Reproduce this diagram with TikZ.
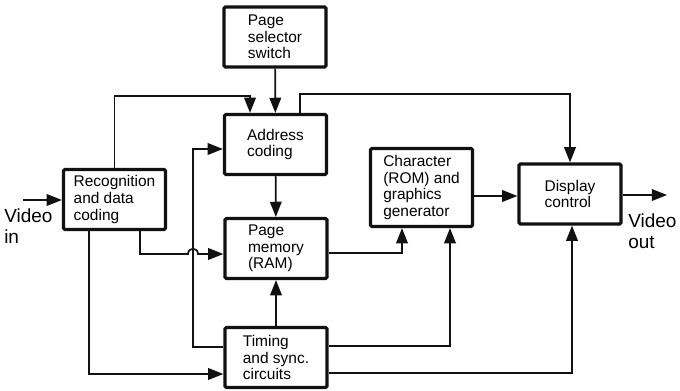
\documentclass[tikz,border=0pt]{standalone}
\usepackage{fontspec}
\setmainfont{Liberation Sans}
\usepackage{tikz}
\usetikzlibrary{arrows.meta,calc,positioning}
\definecolor{InkDark}{HTML}{111111}
\tikzset{
  blk/.style={rectangle, draw=InkDark, line width=2.2pt, rounded corners=1pt, fill=white,
              minimum width=2.55cm, minimum height=1.5cm, inner sep=2pt, align=left,
              font=\fontsize{11}{11.8}\selectfont},
  conn/.style={line width=1.2pt, draw=InkDark, -{Triangle[length=3.8mm, width=2.9mm]}},
  vlabel/.style={font=\fontsize{13.5}{15.5}\selectfont, align=left, inner sep=0pt},
}
\begin{document}
\begin{tikzpicture}[x=0.025cm, y=-0.025cm]
\useasboundingbox (0,0) rectangle (680,390);
% blocks
\node[blk] (page) at (275,37) {Page\\selector\\switch};
\node[blk] (addr) at (275.5,144.5) {Address\\coding};
\node[blk] (ram) at (276,248.5) {Page\\memory\\(RAM)};
\node[blk] (timing) at (276,357.5) {Timing\\and sync.\\circuits};
\node[blk] (recog) at (114.5,199.5) {Recognition\\and data\\coding};
\node[blk, minimum height=1.95cm] (chargen) at (421.5,187.5) {Character\\(ROM) and\\graphics\\generator};
\node[blk] (display) at (570,194) {Display\\control};
% inputs and outputs
\coordinate (vin) at (23,200);
\coordinate (vout) at (667,195);
\node[vlabel, anchor=north west] (vinlbl) at (4,208) {Video\\in};
\node[vlabel, anchor=north west] (voutlbl) at (628,213) {Video\\out};
\draw[conn] (vin) -- (recog.west |- vin);
\draw[conn] (display.east |- vout) -- (vout);
% top bus
\coordinate (busL) at (250,96);
\coordinate (busR) at (300,94);
\draw[conn] (page) -- (addr);
\draw[conn] (recog.north) |- (busL) -- (busL |- addr.north);
\draw[conn] (busR |- addr.north) -- (busR) -| (display.north);
\draw[conn] (addr) -- (ram);
% recognition to page memory, hopping over the timing line
\coordinate (hop) at (193,254);
\draw[conn] (recog.south -| 140,0) -- (140,254) -- ($(hop)+(-5,0)$)
  .. controls ($(hop)+(-5,-7)$) and ($(hop)+(5,-7)$) .. ($(hop)+(5,0)$) -- (ram.west |- hop);
\draw[conn] (timing.west |- 0,347) -| (193,149) -- (addr.west |- 0,149);
\draw[conn] (recog.south -| 89,0) |- (timing.west |- 0,374);
\draw[conn] (timing) -- (ram);
% to character generator and display
\draw[conn] (ram.east |- 0,253) -| (chargen.south -| 402,0);
\draw[conn] (timing.east |- 0,346) -| (chargen.south -| 450,0);
\draw[conn] (timing.east |- 0,373) -| (display.south -| 572,0);
\draw[conn] (chargen.east |- 0,196) -- (display.west |- 0,196);
\end{tikzpicture}
\end{document}
